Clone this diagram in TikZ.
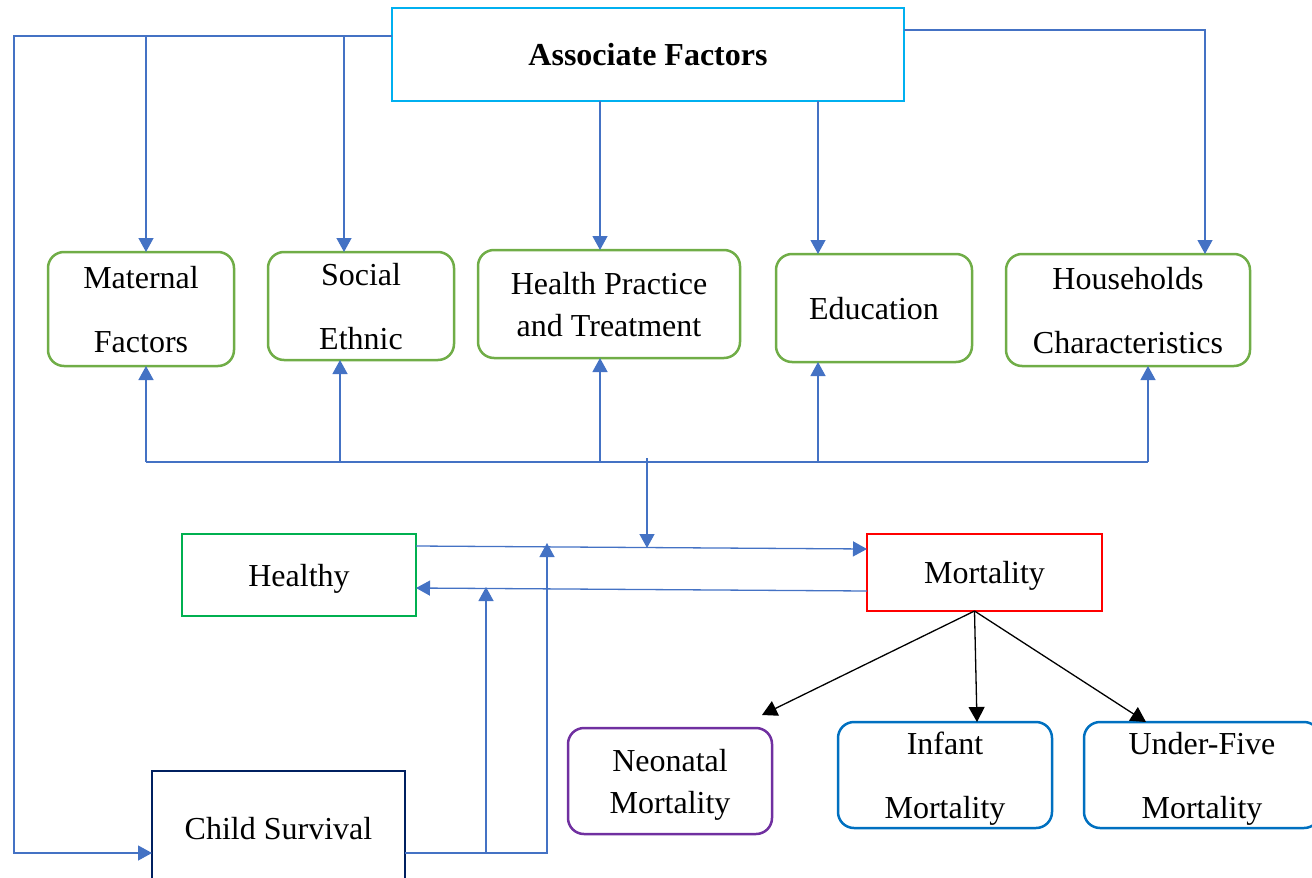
\documentclass[tikz,border=0pt]{standalone}
\usepackage{fontspec}
\setmainfont{Liberation Serif}
\usetikzlibrary{arrows.meta}
\definecolor{linkblue}{HTML}{4472C4}
\definecolor{topcyan}{HTML}{00B0F0}
\definecolor{boxgreen}{HTML}{70AD47}
\definecolor{okgreen}{HTML}{00B050}
\definecolor{navy}{HTML}{002060}
\definecolor{violet}{HTML}{7030A0}
\definecolor{darkblue}{HTML}{0070C0}

\begin{document}
\begin{tikzpicture}[x=1pt,y=-1pt,
  box/.style={draw,line width=2.5pt,inner sep=0pt,outer sep=0pt,align=center,
    text depth=-4pt,font=\fontsize{32}{64}\selectfont},
  factor/.style={box,draw=boxgreen,rounded corners=16pt},
  tight/.style={font=\fontsize{32}{42}\selectfont},
  link/.style={draw=linkblue,line width=1.3pt,-{Triangle[width=15pt,length=14pt]}},
  line/.style={draw=linkblue,line width=1.3pt},
  split/.style={draw=black,line width=1.3pt,-{Triangle[width=16pt,length=15pt]}}]
\useasboundingbox (0,0) rectangle (1312,878);
\clip (0,0) rectangle (1312,878);

\node [box,text depth=0pt,draw=topcyan,minimum width=512pt,minimum height=93pt] (assoc) at (648,54.5)
  {\textbf{Associate Factors}};

\node [factor,minimum width=186pt,minimum height=114pt] (maternal) at (141,309) {Maternal\\Factors};
\node [factor,minimum width=186pt,minimum height=108pt] (social) at (361,306) {Social\\Ethnic};
\node [factor,tight,minimum width=262pt,minimum height=108pt] (health) at (609,304) {Health Practice\\and Treatment};
\node [factor,minimum width=196pt,minimum height=108pt] (edu) at (874,308) {Education};
\node [factor,minimum width=244pt,minimum height=112pt] (house) at (1128,310) {Households\\Characteristics};

\node [box,draw=okgreen,minimum width=234pt,minimum height=82pt] (healthy) at (299,575) {Healthy};
\node [box,draw=red,minimum width=235pt,minimum height=77pt] (mortality) at (984.5,572.5) {Mortality};
\node [box,draw=navy,minimum width=253pt,minimum height=114pt] (survival) at (278.5,828) {Child Survival};

\node [box,tight,draw=violet,rounded corners=16pt,minimum width=204pt,minimum height=106pt] (neonatal) at (670,781) {Neonatal\\Mortality};
\node [box,draw=darkblue,rounded corners=16pt,minimum width=214pt,minimum height=106pt] (infant) at (945,775) {Infant\\Mortality};
\node [box,draw=darkblue,rounded corners=16pt,minimum width=236pt,minimum height=106pt] (underfive) at (1202,775) {Under-Five\\Mortality};

\coordinate (bendL) at (14,36);

\draw [link] ([yshift=18.5pt]assoc.west) -- (bendL) |- ([yshift=-25pt]survival.west);
\foreach \n/\x in {maternal/146,social/344}
  \draw [link] (\x,36) -- (\n.north -| \x,0);
\draw [link] (assoc.south -| 600,0) -- (health.north -| 600,0);
\draw [link] (assoc.south -| 818,0) -- (edu.north -| 818,0);
\draw [link] ([yshift=24.5pt]assoc.east) -| (house.north -| 1205,0);

\draw [line] (146,462) -- (1148,462);
\foreach \n/\x in {maternal/146,social/340,health/600,edu/818,house/1148}
  \draw [link] (\x,462) -- (\n.south -| \x,0);
\draw [link] (647,458) -- (647,548);

\draw [link] ([yshift=29pt]healthy.east) -- ([yshift=23.5pt]mortality.west);
\draw [link] ([yshift=-18.5pt]mortality.west) -- ([yshift=-13pt]healthy.east);

\draw [link] ([yshift=-25pt]survival.east) -| (547,543);
\draw [link] (486,853) -- (486,587);

\draw [split] ([xshift=-10pt]mortality.south) -- ([shift={(-10pt,13pt)}]neonatal.north east);
\draw [split] ([xshift=-10pt]mortality.south) -- ([xshift=32pt]infant.north);
\draw [split] ([xshift=-10pt]mortality.south) -- (underfive.north -| 1146,0);
\end{tikzpicture}
\end{document}
